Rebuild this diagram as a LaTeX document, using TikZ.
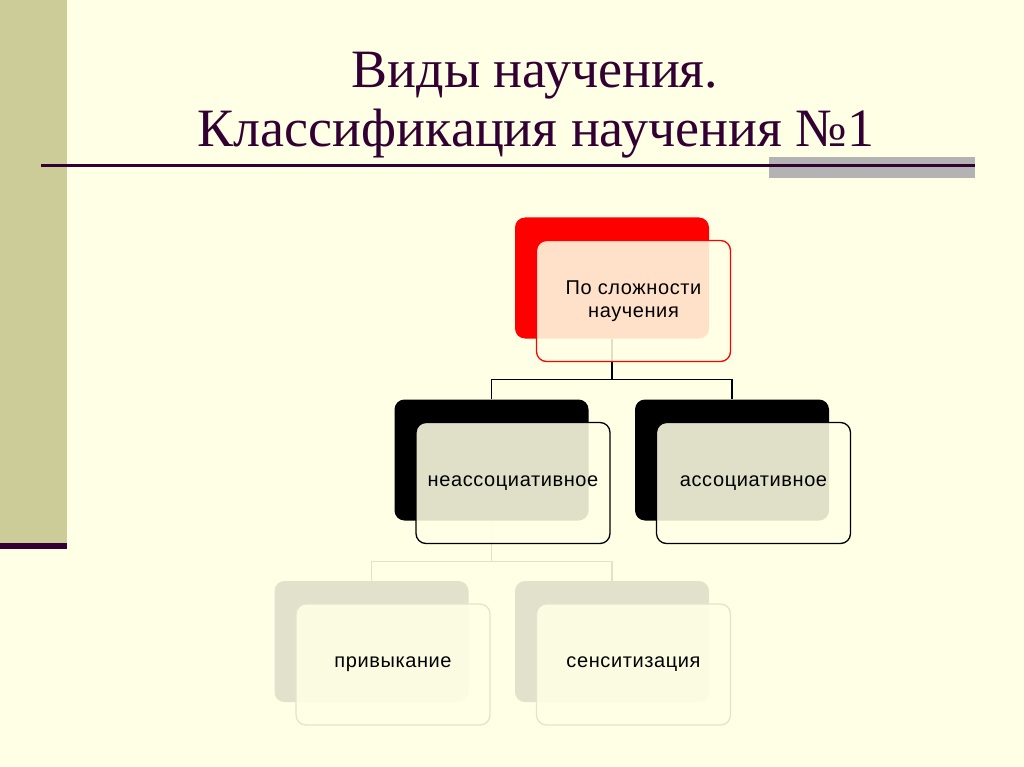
\documentclass[tikz,border=0pt]{standalone}
\usepackage{fontspec}
\setmainfont{Liberation Serif}
\newfontfamily\boxfont[LetterSpace=3]{Liberation Sans}
\definecolor{bg}{HTML}{FFFFE5}
\definecolor{bar}{HTML}{CCCC99}
\definecolor{plum}{HTML}{330033}
\definecolor{fade}{HTML}{E1E1CC}
\definecolor{fadeline}{HTML}{E4E4CE}
\definecolor{rule}{HTML}{B3B3B3}

\begin{document}
\begin{tikzpicture}[x=1pt,y=-1pt,
back/.style={rectangle,rounded corners=10pt,minimum width=194pt,minimum height=121pt,inner sep=0pt},
front/.style={back,fill=bg,fill opacity=0.88,text opacity=1,line width=1.3pt,
 font=\boxfont\fontsize{20}{23.5}\selectfont,align=center},
link/.style={line width=1.4pt},
heading/.style={plum,anchor=base,inner sep=0pt,font=\fontsize{54}{60}\selectfont}]
\def\boxes{0/612/278/red/red/{По сложности\\научения},
 1/491.5/460/black/black/неассоциативное,
 2/732/460/black/black/ассоциативное,
 3/371.5/641.5/fade/fadeline/привыкание,
 4/612/641.5/fade/fadeline/сенситизация}
\fill[bg] (0,0) rectangle (1024,767);
\fill[bar] (0,0) rectangle (66.5,545);
\fill[plum] (0,543.3) rectangle (66.5,548.7);
\fill[rule] (769,157.3) rectangle (975,177.7);
\draw[plum,line width=2.6pt] (41,165.5) -- (975,165.5);
\node[heading] (t1) at (535,88) {Виды научения.};
\node[heading] (t2) at (536,147) {Классификация научения №1};
\foreach \n/\x/\y/\c/\d/\t in \boxes
 {\node[back,fill=\c] (b\n) at (\x,\y) {};}
\foreach \a/\b/\c in {0/1/black,0/2/black,1/3/fade,1/4/fade}
 {\draw[link,\c] (b\a.south) -- ++(0,41) -| (b\b.north);}
\foreach \n/\x/\y/\c/\d/\t in \boxes
 {\node[front,draw=\d] (f\n) at (\x+21.5,\y+23) {\t};}
\end{tikzpicture}
\end{document}
